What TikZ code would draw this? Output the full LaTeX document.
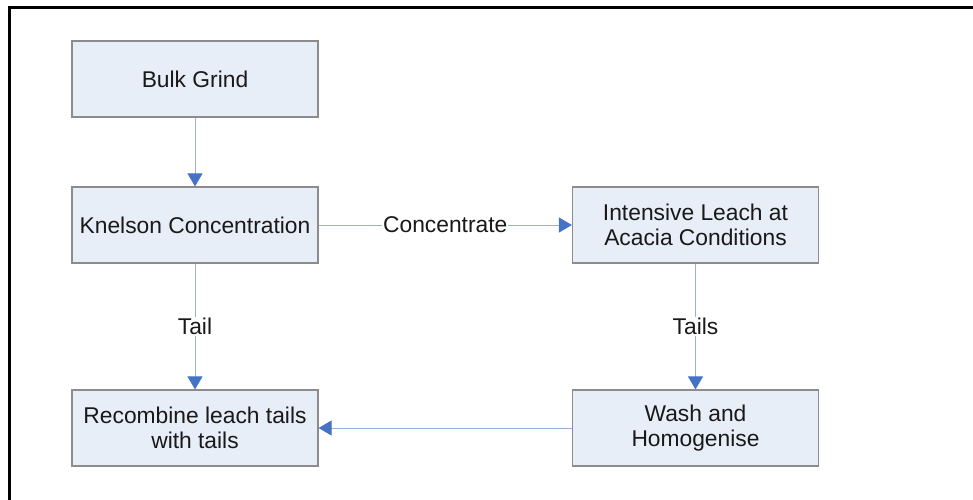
\documentclass[tikz,border=0pt]{standalone}
\usepackage{fontspec}
\setmainfont{Liberation Sans}
\usetikzlibrary{arrows.meta}
\definecolor{boxfill}{HTML}{E8EEF7}
\definecolor{boxdraw}{HTML}{8C8C8C}
\definecolor{linecol}{HTML}{95B3D7}
\definecolor{tipcol}{HTML}{4472C4}
\begin{document}
\begin{tikzpicture}[x=1pt,y=-1pt,
  procbox/.style={draw=boxdraw,line width=1.2pt,fill=boxfill,minimum width=246pt,minimum height=76pt,
    inner sep=0pt,align=center,font=\fontsize{22.8}{25.5}\selectfont,text=black!90},
  flow/.style={draw=linecol,line width=1pt,-{Triangle[length=13pt,width=15pt,fill=tipcol,color=tipcol]}},
  lbl/.style={fill=white,inner sep=1pt,font=\fontsize{22.8}{25.5}\selectfont,text=black!90}]
\useasboundingbox (0,0) rectangle (973,499);
\draw[line width=3pt] (9,520) -- (9,7.5) -- (990,7.5);
\node[procbox] (bulk) at (195,79) {Bulk Grind};
\node[procbox] (knel) at (195,225) {Knelson Concentration};
\node[procbox] (leach) at (695.5,225) {Intensive Leach at\\Acacia Conditions};
\node[procbox] (recomb) at (195,428) {Recombine leach tails\\with tails};
\node[procbox] (wash) at (695.5,428) {Wash and\\Homogenise};
\draw[flow] (bulk) -- (knel);
\draw[flow] (knel) -- node[lbl] {Concentrate} (leach);
\draw[flow] (knel) -- node[lbl] {Tail} (recomb);
\draw[flow] (leach) -- node[lbl] {Tails} (wash);
\draw[flow] (wash) -- (recomb);
\end{tikzpicture}
\end{document}
